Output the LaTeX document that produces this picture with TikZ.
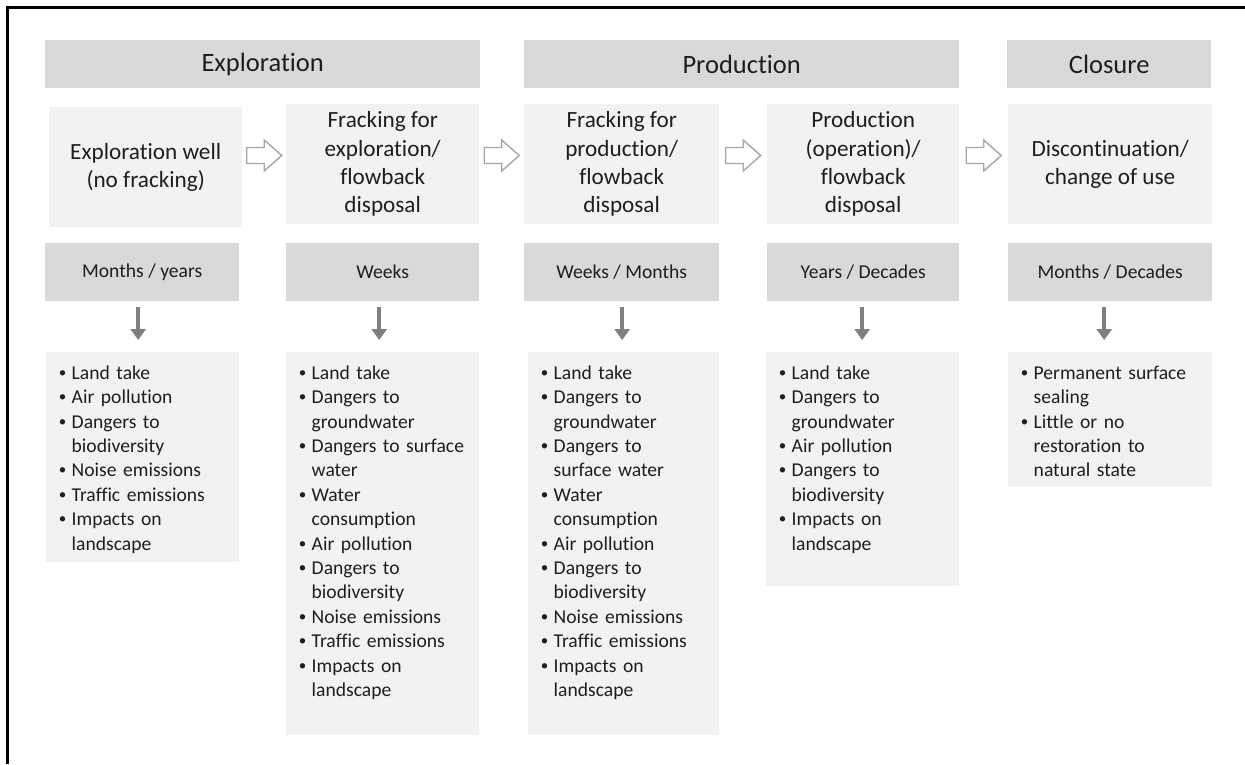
\documentclass[tikz,border=0pt]{standalone}
\usepackage{fontspec}
\setmainfont[Ligatures=NoCommon]{Carlito}
\usetikzlibrary{arrows.meta,calc}
\definecolor{barfill}{HTML}{D9D9D9}
\definecolor{boxfill}{HTML}{F2F2F2}
\definecolor{ink}{HTML}{1E1E1E}
\definecolor{arrowgray}{HTML}{7F7F7F}
\definecolor{outlinegray}{HTML}{A6A6A6}
% bullet hanging to the left of the item text
\newcommand{\bul}{\strut\makebox[0pt][r]{\makebox[18pt][c]{\raisebox{2pt}{\fontsize{15}{15}\selectfont •}}}}
\begin{document}
\begin{tikzpicture}[x=1pt,y=-1pt,
  phase/.style={fill=barfill, text=ink, anchor=north west, inner sep=0, font=\fontsize{26.5}{32}\selectfont},
  stage/.style={fill=boxfill, text=ink, anchor=north west, inner sep=0, align=center, font=\fontsize{23.2}{28.3}\selectfont},
  span/.style={fill=barfill, text=ink, anchor=north west, inner sep=0, font=\fontsize{19.6}{24.4}\selectfont},
  impacts/.style={fill=boxfill, anchor=north west, inner sep=0},
  impacttext/.style={text=ink, anchor=north west, inner sep=0, text width=190pt, align=left, font=\fontsize{19.6}{24.4}\selectfont},
  size/.style n args={2}{minimum width=#1, minimum height=#2},
  downarr/.style={draw=arrowgray, line width=3.5pt, -{Triangle[width=15pt,length=11pt]}, shorten <=6pt, shorten >=12pt},
  pics/blockarrow/.style={code={\draw[draw=outlinegray, fill=white, line width=1.4pt, line join=miter]
      (-17.5,-8) -- (0,-8) -- (0,-15.5) -- (17.5,0) -- (0,15.5) -- (0,8) -- (-17.5,8) -- cycle;}}
]
\useasboundingbox (0,0) rectangle (1245,764);
% frame
\draw[line width=2.5pt] (7.5,764) -- (7.5,7.5) -- (1245,7.5);

% phases
\node[phase, size={435pt}{48pt}] (p1) at (45,40) {Exploration};
\node[phase, size={435pt}{48pt}] (p2) at (524,40) {Production};
\node[phase, size={204pt}{48pt}] (p3) at (1007,40) {Closure};

% stages
\node[stage, size={193pt}{120pt}] (s1) at (49,107) {Exploration well\\(no fracking)};
\node[stage, size={193pt}{120pt}] (s2) at (286,104) {Fracking for\\exploration/\\flowback\\disposal};
\node[stage, size={195pt}{120pt}] (s3) at (524,104) {Fracking for\\production/\\flowback\\disposal};
\node[stage, size={192pt}{120pt}] (s4) at (767,104) {Production\\(operation)/\\flowback\\disposal};
\node[stage, size={204pt}{120pt}] (s5) at (1008,104) {Discontinuation/\\change of use};

% durations
\node[span, size={194pt}{58pt}] (d1) at (45,243) {Months / years};
\node[span, size={193pt}{58pt}] (d2) at (286,243) {Weeks};
\node[span, size={195pt}{58pt}] (d3) at (524,243) {Weeks / Months};
\node[span, size={192pt}{58pt}] (d4) at (767,243) {Years / Decades};
\node[span, size={204pt}{58pt}] (d5) at (1008,243) {Months / Decades};

% impact boxes
\node[impacts, size={193pt}{210pt}] (l1) at (46,352) {};
\node[impacts, size={193pt}{383pt}] (l2) at (286,352) {};
\node[impacts, size={191pt}{383pt}] (l3) at (528,352) {};
\node[impacts, size={193pt}{234pt}] (l4) at (766,352) {};
\node[impacts, size={204pt}{135pt}] (l5) at (1008,352) {};

\node[impacttext] (t1) at ([shift={(25.5,10)}]l1.north west)
  {\bul Land take\\ \bul Air pollution\\ \bul Dangers to\\ biodiversity\\ \bul Noise emissions\\ \bul Traffic emissions\\ \bul Impacts on\\ landscape};
\node[impacttext] (t2) at ([shift={(25.5,10)}]l2.north west)
  {\bul Land take\\ \bul Dangers to\\ groundwater\\ \bul Dangers to surface\\ water\\ \bul Water\\ consumption\\ \bul Air pollution\\ \bul Dangers to\\ biodiversity\\ \bul Noise emissions\\ \bul Traffic emissions\\ \bul Impacts on\\ landscape};
\node[impacttext] (t3) at ([shift={(25.5,10)}]l3.north west)
  {\bul Land take\\ \bul Dangers to\\ groundwater\\ \bul Dangers to\\ surface water\\ \bul Water\\ consumption\\ \bul Air pollution\\ \bul Dangers to\\ biodiversity\\ \bul Noise emissions\\ \bul Traffic emissions\\ \bul Impacts on\\ landscape};
\node[impacttext] (t4) at ([shift={(25.5,10)}]l4.north west)
  {\bul Land take\\ \bul Dangers to\\ groundwater\\ \bul Air pollution\\ \bul Dangers to\\ biodiversity\\ \bul Impacts on\\ landscape};
\node[impacttext] (t5) at ([shift={(25.5,10)}]l5.north west)
  {\bul Permanent surface\\ sealing\\ \bul Little or no\\ restoration to\\ natural state};

% duration -> impacts arrows
\draw[downarr] ([xshift=-4pt]d1.south) -- ([xshift=-4pt]d1.south |- l1.north);
\draw[downarr] ([xshift=-3.5pt]d2.south) -- ([xshift=-3.5pt]d2.south |- l2.north);
\draw[downarr] ([xshift=0.5pt]d3.south) -- ([xshift=0.5pt]d3.south |- l3.north);
\draw[downarr] ([xshift=-1pt]d4.south) -- ([xshift=-1pt]d4.south |- l4.north);
\draw[downarr] ([xshift=-6pt]d5.south) -- ([xshift=-6pt]d5.south |- l5.north);

% stage-to-stage block arrows
\coordinate (hy) at (0,155.5);
\path (s1.east) -- (s2.west) coordinate[pos=.5] (a1);
\path (s2.east) -- (s3.west) coordinate[pos=.5] (a2);
\path (s3.east) -- (s4.west) coordinate[pos=.5] (a3);
\path (s4.east) -- (s5.west) coordinate[pos=.5] (a4);
\pic at (a1 |- hy) {blockarrow};
\pic at (a2 |- hy) {blockarrow};
\pic at (a3 |- hy) {blockarrow};
\pic at (a4 |- hy) {blockarrow};
\end{tikzpicture}
\end{document}
